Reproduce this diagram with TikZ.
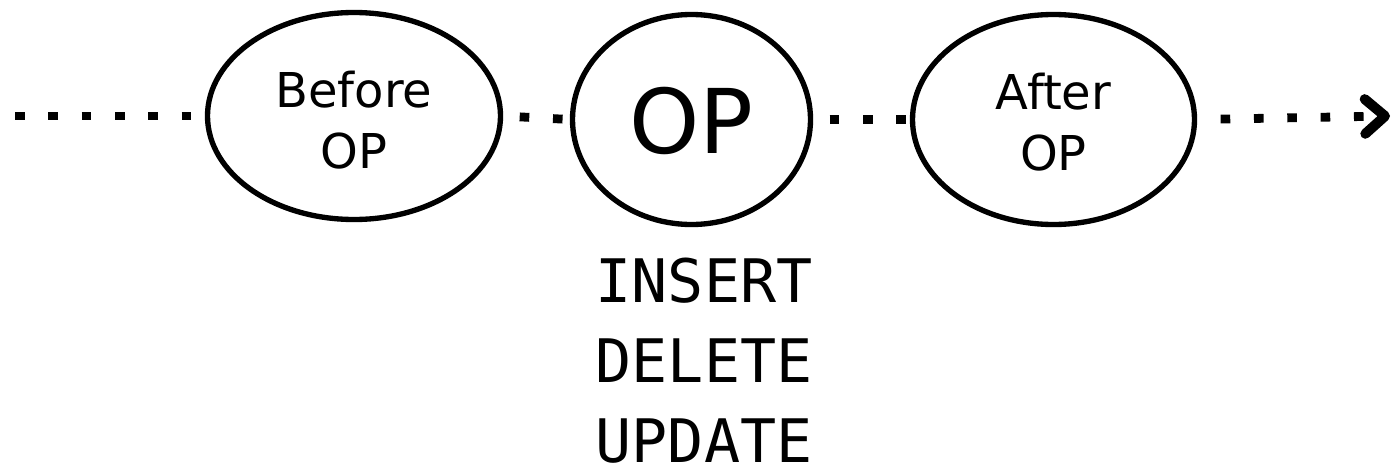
\documentclass[tikz,border=0pt]{standalone}
\usepackage{fontspec}
\setmainfont{DejaVu Sans}
\setmonofont{DejaVu Sans Mono}
\usetikzlibrary{arrows.meta, shapes.geometric}

\begin{document}
\begin{tikzpicture}[x=0.75pt, y=-0.75pt,
    state/.style={draw, line width=4pt, ellipse, inner sep=0pt, align=center},
    small/.style={font=\fontsize{36}{45.75}\selectfont},
    dotline/.style={line width=6.6pt, dash pattern=on 7.2pt off 17.8pt}]
  \useasboundingbox (0,0) rectangle (1391,464);

  % the three states along the time line (the struts push the two-line texts down a little)
  \node[state, small, minimum width=219.75pt, minimum height=155.25pt] (before) at (354,116)
    {\rule{0pt}{34pt}Before\\OP};
  \node[state, minimum width=178.5pt, minimum height=157.5pt,
        font=\fontsize{67}{70}\selectfont] (op) at (691.5,119.5) {\rule{0pt}{52pt}OP};
  \node[state, small, minimum width=211.5pt, minimum height=157.5pt] (after) at (1053.5,119.5)
    {\rule{0pt}{31pt}After\\OP};

  % the kinds of operation
  \node[anchor=north, inner sep=0pt, align=center,
        font=\ttfamily\fontsize{45}{60}\selectfont] (kinds) at (704,257.5) {INSERT\\DELETE\\UPDATE};

  % dotted time line
  \coordinate (start) at (15,116);
  \coordinate (finish) at (1390,116);
  \draw[dotline] (start) -- (before.west);
  \draw[dotline, shorten <=12.4pt] (before.east) -- (op.west);
  \draw[dotline, shorten <=12.4pt] (op.east) -- (after.west);
  \draw[dotline, shorten <=17.6pt,
        -{Straight Barb[length=15pt, width=26pt, line width=7.5pt, round]}] (after.east) -- (finish);
\end{tikzpicture}
\end{document}
